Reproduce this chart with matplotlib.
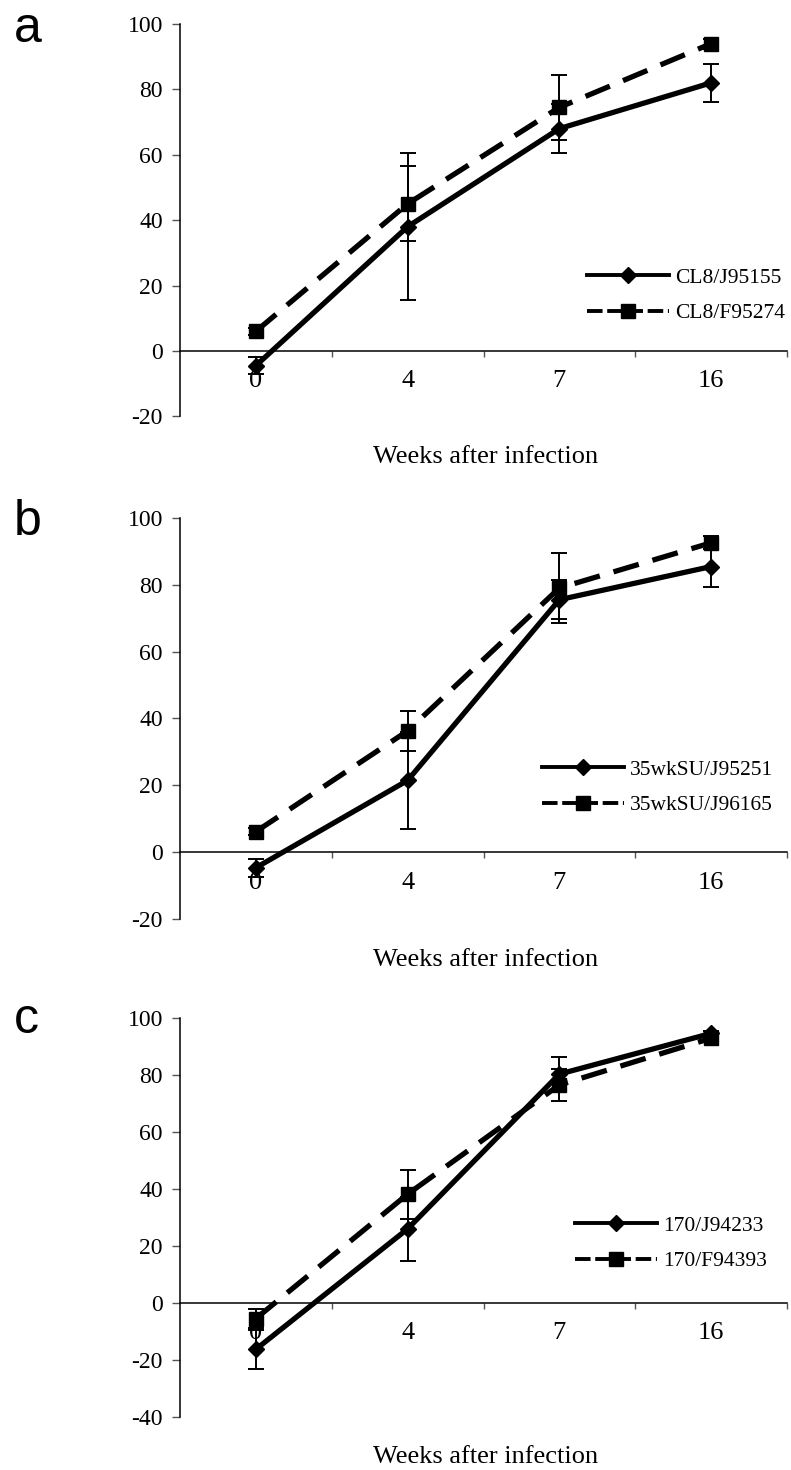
import matplotlib
matplotlib.use("Agg")
import matplotlib.pyplot as plt
from matplotlib.lines import Line2D

plt.rcParams["font.family"] = ["Liberation Serif", "DejaVu Serif"]
plt.rcParams["axes.unicode_minus"] = False

# ------------------------------
# data
# ------------------------------
weeks = ["0", "4", "7", "16"]

a_names = ["CL8/J95155", "CL8/F95274"]
a_diamond = [-4.5, 38, 68, 82]
a_diamond_err = [2.7, 22.5, 7.4, 5.8]
a_square = [6, 45, 74.5, 94]
a_square_err = [1, 11.5, 10, 1.5]

b_names = ["35wkSU/J95251", "35wkSU/J96165"]
b_diamond = [-4.6, 21.5, 75.5, 85.4]
b_diamond_err = [2.7, 14.5, 5.8, 6]
b_square = [6.2, 36.3, 79, 92.5]
b_square_err = [1, 6, 10.5, 2]

c_names = ["170/J94233", "170/F94393"]
c_diamond = [-16.3, 26, 80.4, 94.7]
c_diamond_err = [6.8, 11.3, 6.1, 1]
c_square = [-5.5, 38.2, 76.6, 93]
c_square_err = [3.2, 8.6, 5.7, 1]

W, H = 791, 1470

# top px, bottom px, ymin, letter baseline px, legend (x px, y centre px), xlabel y px
panels = [
    ("a", a_names, a_diamond, a_diamond_err, a_square, a_square_err,
     24, 416.3, -20, 42, (587, 295.5), 456.7),
    ("b", b_names, b_diamond, b_diamond_err, b_square, b_square_err,
     517.7, 919.3, -20, 535, (542, 787.5), 960),
    ("c", c_names, c_diamond, c_diamond_err, c_square, c_square_err,
     1018.3, 1416.7, -40, 1033, (575, 1243.5), 1456.7),
]

fig = plt.figure(figsize=(W / 100, H / 100), dpi=100)
x = list(range(len(weeks)))
dash = (5, 2.7)

for (letter, names, dia, dia_err, sq, sq_err, top, bottom, ymin,
     letter_y, leg_pos, xlab_y) in panels:
    ax = fig.add_axes([180 / W, 1 - bottom / H, (787 - 180) / W, (bottom - top) / H])
    ax.set_axisbelow(True)

    ax.errorbar(x, sq, yerr=sq_err, fmt="none", ecolor="black",
                elinewidth=1.4, capsize=5.8, capthick=1.4, zorder=2)
    ax.errorbar(x, dia, yerr=dia_err, fmt="none", ecolor="black",
                elinewidth=1.4, capsize=5.8, capthick=1.4, zorder=2)
    ax.plot(x, sq, color="black", lw=3.8, linestyle=(0, dash),
            marker="s", ms=10, zorder=3, dash_capstyle="butt")
    ax.plot(x, dia, color="black", lw=3.8, marker="D", ms=8.3, zorder=4)

    ax.set_xlim(-0.5, 3.5)
    ax.set_ylim(ymin, 100)
    ax.set_yticks(range(ymin, 101, 20))
    ax.set_xticks(x)
    ax.set_xticklabels(weeks)
    ax.set_xticks([0.5, 1.5, 2.5, 3.5], minor=True)

    for side in ("top", "right"):
        ax.spines[side].set_visible(False)
    ax.spines["bottom"].set_position(("data", 0))
    ax.spines["bottom"].set_linewidth(1.1)
    ax.spines["left"].set_linewidth(1.1)

    ax.tick_params(axis="y", direction="out", length=5.8, width=1,
                   color="#555555", pad=6.5, labelsize=17)
    ax.tick_params(axis="x", which="major", length=0, pad=14, labelsize=19)
    ax.tick_params(axis="x", which="minor", direction="out", length=4,
                   width=1, color="#555555")

    handles = [
        Line2D([], [], color="black", lw=2.8, marker="D", ms=8.3),
        Line2D([], [], color="black", lw=2.8, linestyle=(0, (4, 1.2)),
               marker="s", ms=9.5),
    ]
    ax.legend(handles, names, loc="center left", frameon=False,
              bbox_to_anchor=(leg_pos[0] / W, 1 - leg_pos[1] / H),
              bbox_transform=fig.transFigure, borderpad=0, borderaxespad=0,
              handlelength=3.8, handletextpad=0.28, labelspacing=0.73,
              fontsize=15.5)

    fig.text(486 / W, 1 - xlab_y / H, "Weeks after infection",
             ha="center", va="center", fontsize=19)
    fig.text(14 / W, 1 - letter_y / H, letter, ha="left", va="baseline",
             fontsize=36, family=["Liberation Sans", "DejaVu Sans"])

fig.savefig("out.png", dpi=100)
